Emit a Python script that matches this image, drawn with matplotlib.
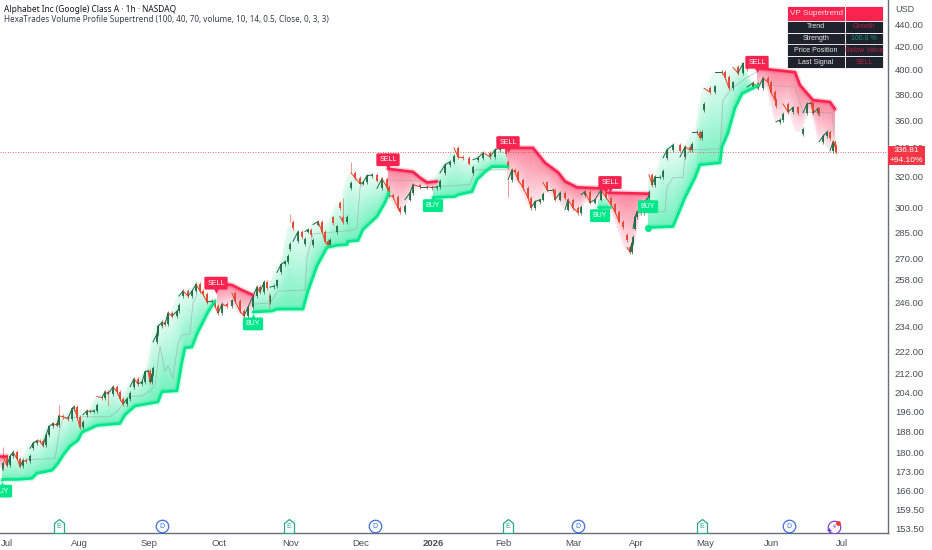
import numpy as np
import matplotlib
matplotlib.use('Agg')
import matplotlib.pyplot as plt
from matplotlib.path import Path
from matplotlib.ticker import FixedLocator, FixedFormatter, NullLocator

# candles: bar position and close
bar_x = [2, 3, 7, 10, 13, 17, 20, 23, 26, 30, 33, 37, 40, 43, 46, 49, 53, 57, 59, 63, 68, 72, 74, 77, 80, 83, 87, 90, 94,
         97, 102, 105, 108, 113, 117, 120, 123, 127, 130, 134, 138, 142, 145, 148, 150, 152, 153, 157, 158, 162, 165,
         168, 172, 177, 179, 183, 188, 192, 196, 200, 203, 207, 212, 215, 218, 222, 227, 232, 235, 240, 244, 248, 253,
         257, 260, 264, 267, 270, 274, 277, 281, 285, 288, 290, 293, 298, 302, 305, 308, 311, 313, 318, 322, 325, 328,
         330, 333, 337, 340, 343, 347, 351, 355, 360, 363, 367, 372, 377, 382, 387, 389, 393, 398, 400, 405, 410, 413,
         420, 427, 432, 437, 440, 445, 450, 454, 458, 463, 469, 473, 478, 483, 490, 495, 500, 506, 508, 512, 515, 518,
         523, 528, 531, 535, 540, 543, 547, 553, 555, 560, 565, 568, 573, 578, 581, 585, 590, 595, 601, 606, 611, 615,
         619, 623, 627, 630, 632, 633, 635, 637, 641, 644, 648, 649, 652, 655, 660, 663, 667, 673, 680, 685, 690, 692,
         697, 700, 702, 704, 710, 715, 722, 725, 729, 733, 738, 743, 747, 753, 758, 763, 768, 771, 775, 776, 780, 783,
         788, 793, 798, 803, 807, 811, 813, 818, 819, 823, 827, 830, 833, 835, 836]
closes = [174.0, 178.4, 175.1, 178.4, 179.9, 177.6, 174.7, 176.9, 176.5, 181.4, 183.3, 184.4, 184.1, 182.5, 186.4, 189.9,
          191.1, 190.3, 194.2, 193.8, 193.0, 197.1, 197.9, 193.8, 189.5, 194.6, 196.3, 195.9, 196.3, 202.1, 201.7, 204.2,
          203.3, 206.3, 204.2, 201.2, 199.1, 201.2, 206.3, 209.8, 207.6, 208.4, 212.9, 213.3, 208.4, 211.9, 226.6, 230.4,
          234.1, 236.1, 235.1, 240.7, 239.2, 241.7, 249.4, 252.0, 249.4, 252.0, 255.6, 252.0, 250.4, 246.3, 246.8, 244.2,
          240.7, 245.2, 244.2, 250.9, 246.8, 241.7, 239.2, 243.7, 249.4, 254.1, 251.5, 256.7, 246.3, 254.1, 254.6, 262.0,
          266.4, 268.0, 275.0, 291.2, 279.6, 285.4, 277.9, 285.4, 286.6, 277.3, 289.6, 291.4, 285.4, 279.6, 277.3, 293.9,
          285.0, 303.2, 294.5, 291.0, 312.4, 322.6, 319.4, 315.5, 316.2, 320.7, 321.3, 312.4, 318.7, 313.0, 308.0, 306.8,
          299.9, 297.5, 305.1, 309.5, 314.8, 313.4, 313.4, 312.8, 313.4, 322.6, 328.1, 330.2, 339.9, 333.6, 332.9, 322.6,
          331.6, 332.9, 336.5, 333.6, 338.5, 339.9, 330.2, 318.0, 324.7, 323.3, 318.0, 312.8, 306.4, 300.0, 303.8, 305.1,
          316.2, 311.5, 311.5, 305.1, 309.5, 298.8, 305.1, 300.0, 296.9, 308.2, 310.2, 303.2, 305.1, 311.5, 306.4, 302.0,
          297.5, 291.4, 283.6, 276.1, 273.4, 278.8, 287.2, 294.0, 297.5, 296.9, 303.2, 306.4, 321.4, 314.8, 320.0, 320.0,
          332.9, 338.5, 342.1, 333.6, 340.6, 338.5, 351.4, 351.4, 347.2, 367.9, 385.1, 381.9, 398.2, 398.2, 394.0, 385.1,
          402.2, 397.4, 405.5, 386.0, 389.3, 385.1, 393.2, 389.9, 381.9, 375.6, 359.0, 360.3, 372.6, 366.4, 369.9, 349.6,
          365.7, 372.6, 373.4, 365.7, 369.1, 344.2, 348.3, 351.4, 337.8, 344.2, 341.4, 336.81]
# long wicks that stick out of the price path
spike_x = [3, 59, 108, 290, 343, 351, 500, 508, 269, 648]
spike_price = [182.0, 198.6, 198.2, 296.0, 306.4, 330.0, 349.0, 306.8, 243.0, 300.0]

# supertrend legs
green_legs = [
    ([2, 3, 17, 32, 37, 52, 58, 63, 70, 78, 82, 97, 120, 125, 135, 158, 162, 177, 182, 185, 192, 197, 208, 215],
     [169.7, 170.0, 170.0, 170.4, 172.2, 173.3, 175.8, 178.8, 182.2, 184.5, 187.6, 190.3, 191.1, 194.6, 198.2, 199.9,
      204.2, 204.6, 217.3, 223.8, 224.2, 230.4, 241.2, 246.8]),
    ([253, 272, 277, 303, 308, 317, 327, 337, 347, 348, 358, 363, 377, 385, 389],
     [241.2, 241.7, 242.7, 242.7, 252.0, 265.6, 276.0, 277.3, 277.7, 279.6, 280.1, 286.6, 294.5, 303.2, 309.5]),
    ([433, 455, 458, 472, 477, 485, 492, 508],
     [306.4, 307.0, 308.2, 310.2, 318.0, 323.3, 326.8, 326.8]),
    ([598, 610], [300.3, 300.3]),
    ([648, 673, 685, 695, 700, 720, 722, 728, 735, 742, 758],
     [287.8, 288.4, 306.4, 319.4, 328.1, 329.5, 340.6, 350.7, 369.4, 380.7, 387.2]),
]
red_legs = [
    ([0, 6], [178.4, 178.4]),
    ([217, 232, 240, 253], [256.2, 255.2, 253.0, 249.9]),
    ([388, 413, 420, 427, 437], [325.4, 323.3, 319.4, 316.2, 316.9]),
    ([507, 533, 545, 558, 565, 577, 600, 607], [339.9, 339.9, 329.5, 323.0, 317.0, 313.0, 312.4, 311.5]),
    ([608, 648], [309.5, 308.9]),
    ([757, 795, 800, 813, 830, 835], [401.5, 398.2, 387.5, 375.6, 374.1, 368.6]),
]
# thin grey value line
grey_legs = [
    ([27, 55, 60, 63, 83, 110, 118, 128, 143, 150, 155, 160, 165, 168, 173, 178, 182, 190, 193, 197],
     [177.2, 177.6, 189.1, 193.0, 193.8, 193.8, 196.3, 202.1, 202.5, 204.6, 206.8, 224.7, 213.0, 215.6, 210.0, 226.0,
      229.9, 230.4, 245.8, 250.4]),
    ([253, 270, 278, 305, 307, 313, 350, 357, 360, 363],
     [245.2, 245.8, 252.0, 252.5, 270.4, 284.0, 286.0, 287.2, 312.4, 315.5]),
    ([387, 430], [318.0, 316.9]),
    ([435, 470, 475, 507], [313.4, 314.8, 324.7, 324.7]),
    ([648, 665, 667, 673, 683, 685, 690, 720, 723, 732, 747, 757],
     [297.0, 297.5, 313.4, 319.4, 319.4, 333.6, 338.5, 339.2, 375.6, 385.1, 394.0, 398.2]),
    ([767, 795, 803, 832, 834], [387.5, 386.0, 366.4, 365.7, 349.6]),
]

sell_x = [216, 388, 508, 610, 757]
sell_price = [256.2, 331.6, 343.7, 316.2, 406.5]
buy_x = [2, 253, 433, 600, 648]
buy_price = [165.9, 235.3, 301.3, 295.0, 300.6]

month_pos = [7, 79, 149, 219, 291, 361, 433, 503, 573, 636, 705, 772, 842]
month_labels = ['Jul', 'Aug', 'Sep', 'Oct', 'Nov', 'Dec', '2026', 'Feb', 'Mar', 'Apr', 'May', 'Jun', 'Jul']
price_ticks = [440, 420, 400, 380, 360, 340, 320, 300, 285, 270, 258, 246, 234, 222, 212, 204, 196, 188, 180, 173, 166,
               159.5, 153.5]
earnings_x = [59, 289, 508, 702]
dividend_x = [162, 375, 578, 789]
last_price = 336.81

table_rows = ['Trend', 'Strength', 'Price Position', 'Last Signal']
table_values = ['Growth', '100.0 %', 'Below Value', 'SELL']

GREEN = '#00e68a'
RED = '#f8234f'
UP = '#1f6b45'
DOWN = '#e4432b'
Y_LO, Y_HI = 152.0, 463.0

plt.rcParams['font.family'] = ['Liberation Sans', 'DejaVu Sans']
fig = plt.figure(figsize=(9.32, 5.5), dpi=100)
ax = fig.add_axes([0, 17 / 550, 888 / 932, 533 / 550])
ax.set_yscale('log')
ax.set_xlim(0, 888)
ax.set_ylim(Y_LO, Y_HI)


def paint_fill(rgba, legs, color, is_up):
    # gradient from the supertrend leg (strong) to the price side (pale)
    path = np.interp(xc, bar_x, closes)
    for lx, lp in legs:
        cols = np.where((xc >= lx[0]) & (xc <= lx[-1]))[0]
        edge = []
        for c in cols:
            # a few columns around, so the edge does not look like a comb
            win = path[max(c - 4, cols[0]):min(c + 5, cols[-1] + 1)]
            edge.append(win.max() if is_up else win.min())
        edge = np.array(edge)
        for i, c in enumerate(cols):
            line = np.interp(xc[c], lx, lp)
            price = edge[max(i - 3, 0):i + 4].mean()
            if (price > line) != is_up:
                continue
            t = (np.log(yc) - np.log(line)) / (np.log(price) - np.log(line))
            inside = (t >= 0) & (t <= 1)
            rgba[inside, c, :3] = color
            rgba[inside, c, 3] = 0.55 - 0.47 * t[inside]


x_edges = np.arange(0, 889)
y_edges = np.geomspace(Y_LO, Y_HI, 534)
xc = (x_edges[:-1] + x_edges[1:]) / 2
yc = np.sqrt(y_edges[:-1] * y_edges[1:])
rgba = np.zeros((533, 888, 4))
rgba[:, :, :3] = 1
paint_fill(rgba, green_legs, matplotlib.colors.to_rgb(GREEN), True)
paint_fill(rgba, red_legs, matplotlib.colors.to_rgb(RED), False)
ax.pcolormesh(x_edges, y_edges, rgba, shading='flat', zorder=1, rasterized=True)

for lx, lp in grey_legs:
    ax.plot(lx, lp, color='#9aa5a0', lw=0.6, alpha=0.6, zorder=2)

# candles, the thin joins make them read as one wiggly path like at this zoom level
opens = [closes[0]] + closes[:-1]
prev_x = [bar_x[0]] + bar_x[:-1]
for x0, x, o, c in zip(prev_x, bar_x, opens, closes):
    col = UP if c >= o else DOWN
    top, bot = max(o, c), min(o, c)
    if top / bot > 1.025:
        # big gaps are not bodies
        bot = top / 1.012 if c < o else bot
        top = bot * 1.012 if c > o else top
    elif x - x0 < 8:
        ax.plot([x0, x], [o, c], color=col, lw=0.7, zorder=3)
    ax.vlines(x, bot / 1.004, top * 1.004, color=col, lw=0.5, zorder=3)
    ax.vlines(x, bot, top, color=col, lw=1.3, zorder=3)
for x, p in zip(spike_x, spike_price):
    ax.vlines(x, p, np.interp(x, bar_x, closes), color='#e8705c', lw=0.5, zorder=3)

# supertrend lines with glow
for legs, col in ((green_legs, GREEN), (red_legs, RED)):
    for lx, lp in legs:
        ax.plot(lx, lp, color=col, lw=4.2, alpha=0.2, zorder=4, solid_capstyle='round')
        ax.plot(lx, lp, color=col, lw=1.9, zorder=5, solid_capstyle='round', solid_joinstyle='round')
ax.plot(green_legs[-1][0][0], green_legs[-1][1][0], 'o', color=GREEN, ms=4, zorder=5)

# last price line
ax.axhline(last_price, color='#f23645', lw=0.6, ls=(0, (1, 2)), zorder=2)

# signal labels
pill = 'round,pad=0.42,rounding_size=0.2'
for x, p in zip(sell_x, sell_price):
    ax.text(x, p, 'SELL', color='white', fontsize=5, ha='center', va='center', zorder=8,
            bbox=dict(boxstyle=pill, fc=RED, ec='none'))
    ax.plot(x, p * 0.984, marker='v', color=RED, ms=3.5, zorder=7, mew=0)
for x, p in zip(buy_x, buy_price):
    ax.text(x, p, 'BUY', color='white', fontsize=5, ha='center', va='center', zorder=8,
            bbox=dict(boxstyle=pill, fc=GREEN, ec='none'))
    ax.plot(x, p * 1.016, marker='^', color=GREEN, ms=3.5, zorder=7, mew=0)

# axes
for s in ('top', 'left'):
    ax.spines[s].set_visible(False)
for s in ('right', 'bottom'):
    ax.spines[s].set_color('#6a6d78')
    ax.spines[s].set_linewidth(1.0)
ax.yaxis.tick_right()
ax.yaxis.set_major_locator(FixedLocator(price_ticks))
ax.yaxis.set_major_formatter(FixedFormatter(['%.2f' % t for t in price_ticks]))
ax.yaxis.set_minor_locator(NullLocator())
ax.tick_params(axis='y', length=0, pad=5, labelsize=6.8, labelcolor='#4a4d57')
ax.set_xticks(month_pos)
ax.set_xticklabels(month_labels)
ax.tick_params(axis='x', length=0, pad=4, labelsize=6.8, labelcolor='#4a4d57')
ax.get_xticklabels()[6].set_fontweight('bold')

# event markers along the bottom
trans = ax.get_xaxis_transform()
house = Path([(-0.72, -1), (0.72, -1), (0.72, 0.45), (0, 1), (-0.72, 0.45), (-0.72, -1)], closed=True)
for x in earnings_x:
    ax.plot(x, 7 / 533, marker=house, ms=10, mfc='white', mec='#2aa88a', mew=0.9, transform=trans, zorder=6)
    ax.text(x, 6.5 / 533, 'E', color='#2aa88a', fontsize=5, ha='center', va='center', transform=trans, zorder=7)
for x in dividend_x:
    ax.plot(x, 7 / 533, marker='o', ms=9, mfc='white', mec='#3d6fe0', mew=0.9, transform=trans, zorder=6)
    ax.text(x, 7 / 533, 'D', color='#3d6fe0', fontsize=5, ha='center', va='center', transform=trans, zorder=7)
ax.plot(834, 6 / 533, marker='o', ms=9, mfc='white', mec='#8a3fd8', mew=0.9, transform=trans, zorder=6)
ax.text(834, 6 / 533, '\u26a1', color='#7a32d0', fontsize=5, ha='center', va='center', transform=trans, zorder=7,
        family=['DejaVu Sans'])
ax.plot(838, 10 / 533, marker='o', ms=2.5, color='#f23645', transform=trans, zorder=8)
ax.plot(829, 3 / 533, marker='P', ms=3, color='#6a3fd8', mew=0, transform=trans, zorder=8)

# header text
fig.text(4 / 932, 1 - 9.5 / 550, 'Alphabet Inc (Google) Class A · 1h · NASDAQ', fontsize=6, fontweight='bold',
         family=['Noto Sans'], color='#131722', va='center')
fig.text(4 / 932, 1 - 20 / 550, 'HexaTrades Volume Profile Supertrend (100, 40, 70, volume, 10, 14, 0.5, Close, 0, 3, 3)',
         fontsize=5.85, family=['Noto Sans'], color='#3a3d47', va='center')
fig.text(895 / 932, 1 - 10 / 550, 'USD', fontsize=6.5, color='#4a4d57', va='center')

# price tag
fig.patches.append(plt.Rectangle((888 / 932, 1 - 165 / 550), 37 / 932, 19 / 550, transform=fig.transFigure,
                                 fc='#f23645', ec='none', zorder=10))
fig.text(906 / 932, 1 - 151 / 550, '%.2f' % last_price, color='white', fontsize=6, ha='center', va='center', zorder=11)
fig.text(906 / 932, 1 - 160 / 550, '+94.10%', color='white', fontsize=6, ha='center', va='center', zorder=11)

# info table
tbl_cells = [['VP Supertrend', '']] + [[a, b] for a, b in zip(table_rows, table_values)]
tbl = ax.table(cellText=tbl_cells, colWidths=[58 / 96, 38 / 96], zorder=9, cellLoc='center',
               bbox=[787 / 888, (533 - 68) / 533, 96 / 888, 62 / 533])
tbl.auto_set_font_size(False)
for (r, c), cell in tbl.get_celld().items():
    cell.set_edgecolor('white')
    cell.set_linewidth(0.6)
    cell.set_height(0.03 if r == 0 else 0.0235)
    cell.set_facecolor(RED if r == 0 else '#1e222d')
    cell.get_text().set_fontsize(5.9 if r == 0 else 5)
    cell.get_text().set_color('#e8e8ea')
    if r == 0 and c == 0:
        cell.get_text().set_color('#ffe0e6')
    if r > 0 and c == 1:
        cell.get_text().set_color('#0f9d78' if r == 2 else '#b5213f')

fig.savefig('out.png', dpi=100, facecolor='white')
